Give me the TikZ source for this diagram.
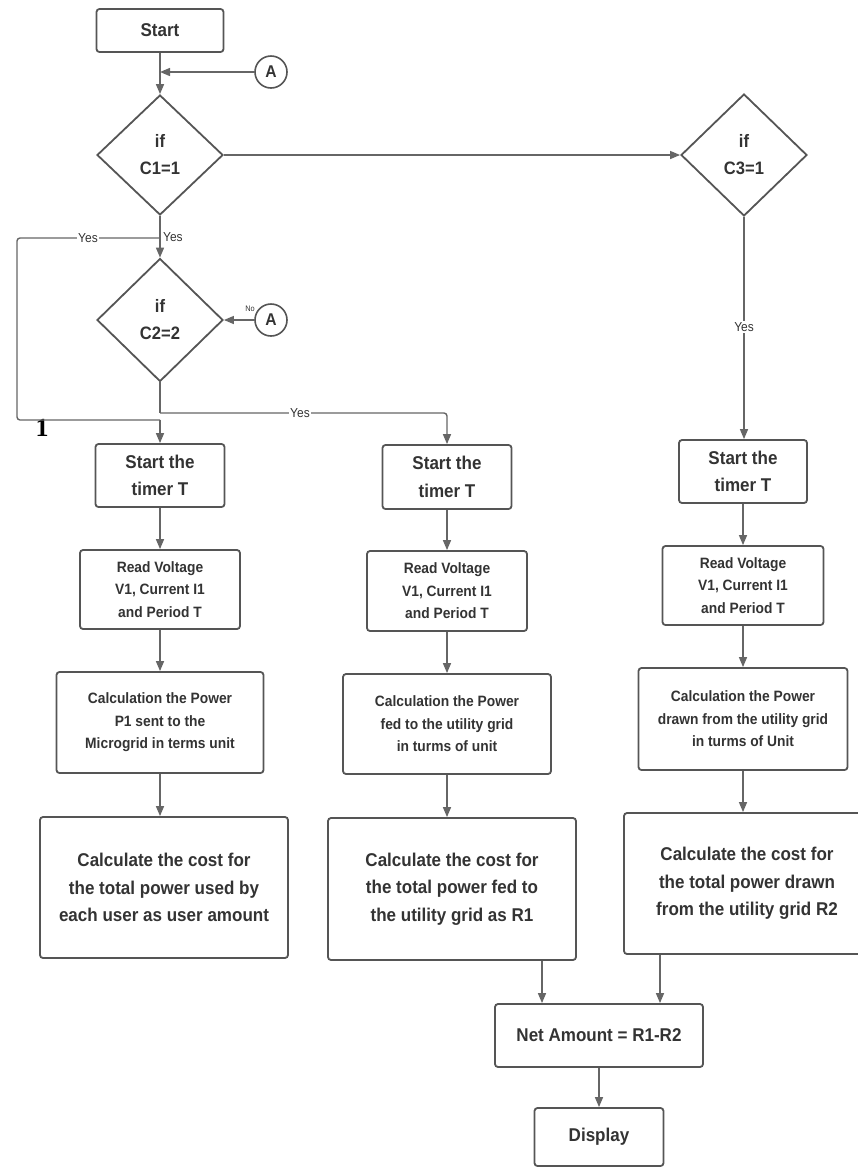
\documentclass[tikz,border=0pt]{standalone}
\usepackage{fontspec}
\setmainfont{Liberation Sans}[FakeStretch=0.92]
\newfontfamily\numfont{Liberation Serif}
\usetikzlibrary{arrows.meta,shapes.geometric}
\definecolor{linegray}{HTML}{666666}
\definecolor{boxgray}{HTML}{555555}
\definecolor{txtgray}{HTML}{333333}
\begin{document}
\begin{tikzpicture}[x=1pt,y=-1pt,
  box/.style={draw=boxgray, line width=1.8pt, rounded corners=3pt, fill=white, align=center, inner sep=0pt, text=txtgray},
  big/.style={font=\bfseries\fontsize{18.5}{27.5}\selectfont},
  mid/.style={font=\bfseries\fontsize{15}{22.5}\selectfont},
  dec/.style={draw=boxgray, line width=1.8pt, diamond, align=center, inner sep=0pt, text=txtgray, font=\bfseries\fontsize{18}{27}\selectfont, minimum width=126pt},
  conn/.style={draw=linegray, line width=1.4pt, rounded corners=3pt},
  arr/.style={conn, -{Triangle[length=10pt,width=8pt]}},
  lbl/.style={fill=white, inner sep=1pt, text=txtgray, font=\fontsize{13}{15}\selectfont},
  onpage/.style={draw=boxgray, line width=1.6pt, circle, minimum size=32pt, inner sep=0pt, text=txtgray, font=\bfseries\fontsize{17}{20}\selectfont}
]
\useasboundingbox (0,0) rectangle (858,1168);

% top
\node[box, big, minimum width=127pt, minimum height=43pt] (start) at (160,30.5) {Start};
\node[onpage] (A1) at (271,72) {A};
\node[dec, minimum height=120pt] (C1) at (160,155) {if\\C1=1};
\node[dec, minimum height=123pt] (C2) at (160,320) {if\\C2=2};
\node[dec, minimum height=122pt] (C3) at (744,155) {if\\C3=1};
\node[onpage] (A2) at (271,320) {A};

% column 1
\node[box, big, minimum width=129pt, minimum height=63pt] (t1) at (160,475.5) {Start the\\timer T};
\node[box, mid, minimum width=160pt, minimum height=79pt] (r1) at (160,589.5) {Read Voltage\\V1, Current I1\\and Period T};
\node[box, mid, minimum width=207pt, minimum height=101pt] (p1) at (160,722.5) {Calculation the Power\\P1 sent to the\\Microgrid in terms unit};
\node[box, big, minimum width=248pt, minimum height=141pt] (c1) at (164,887.5) {Calculate the cost for\\the total power used by\\each user as user amount};

% column 2
\node[box, big, minimum width=129pt, minimum height=64pt] (t2) at (447,477) {Start the\\timer T};
\node[box, mid, minimum width=160pt, minimum height=80pt] (r2) at (447,591) {Read Voltage\\V1, Current I1\\and Period T};
\node[box, mid, minimum width=208pt, minimum height=100pt] (p2) at (447,724) {Calculation the Power\\fed to the utility grid\\in turms of unit};
\node[box, big, minimum width=248pt, minimum height=142pt] (c2) at (452,889) {Calculate the cost for\\the total power fed to\\the utility grid as R1};

% column 3
\node[box, big, minimum width=128pt, minimum height=63pt] (t3) at (743,471.5) {Start the\\timer T};
\node[box, mid, minimum width=161pt, minimum height=79pt] (r3) at (743,585.5) {Read Voltage\\V1, Current I1\\and Period T};
\node[box, mid, minimum width=209pt, minimum height=102pt] (p3) at (743,719) {Calculation the Power\\drawn from the utility grid\\in turms of Unit};
\node[box, big, minimum width=246pt, minimum height=141pt] (c3) at (747,883.5) {\raisebox{7pt}{\parbox{240pt}{\centering Calculate the cost for\\the total power drawn\\from the utility grid R2}}};

% bottom
\node[box, big, minimum width=208pt, minimum height=63pt] (net) at (599,1035.5) {Net Amount = R1-R2};
\node[box, big, minimum width=129pt, minimum height=58pt] (disp) at (599,1137) {Display};

% label "1"
\node[text=black, font=\numfont\bfseries\fontsize{26}{26}\selectfont] (one) at (42,428) {1};

% coordinates
\coordinate (yl) at (160,238);
\coordinate (lc1) at (17,238);
\coordinate (lc2) at (17,420);
\coordinate (lj) at (160,420);
\coordinate (c2turn) at (160,413);

% connectors
\draw[arr] (start.south) -- (C1.north);
\draw[arr] (A1.west) -- (A1.west -| start.south);
\draw[arr] (C1.east) -- (C3.west);
\draw[arr] (C1.south) -- (C2.north);
\draw[conn] (yl) -- (lc1) -- (lc2) -- (lj);
\draw[arr] (lj) -- (t1.north);
\draw[arr] (c2turn) -| (t2.north);
\draw[conn] (C2.south) -- (c2turn);
\draw[arr] (A2.west) -- (C2.east);
\draw[arr] (C3.south) -- (C3.south |- t3.north);

\draw[arr] (t1.south) -- (t1.south |- r1.north);
\draw[arr] (r1.south) -- (r1.south |- p1.north);
\draw[arr] (p1.south) -- (p1.south |- c1.north);
\draw[arr] (t2.south) -- (t2.south |- r2.north);
\draw[arr] (r2.south) -- (r2.south |- p2.north);
\draw[arr] (p2.south) -- (p2.south |- c2.north);
\draw[arr] (t3.south) -- (t3.south |- r3.north);
\draw[arr] (r3.south) -- (r3.south |- p3.north);
\draw[arr] (p3.south) -- (p3.south |- c3.north);

\draw[arr] ([xshift=90pt]c2.south) -- ([xshift=90pt]c2.south |- net.north);
\draw[arr] ([xshift=-87pt]c3.south) -- ([xshift=-87pt]c3.south |- net.north);
\draw[arr] (net.south) -- (net.south |- disp.north);

% labels
\node[anchor=west, text=txtgray, font=\fontsize{13}{15}\selectfont, inner sep=1pt] (yes1) at (162,237) {Yes};
\node[lbl] (yes2) at (88,238) {Yes};
\node[lbl] (yes3) at (300,413) {Yes};
\node[lbl] (yes4) at (744,327) {Yes};
\node[text=txtgray, font=\fontsize{8}{9}\selectfont, inner sep=0pt] (no) at (250,309) {No};
\end{tikzpicture}
\end{document}
